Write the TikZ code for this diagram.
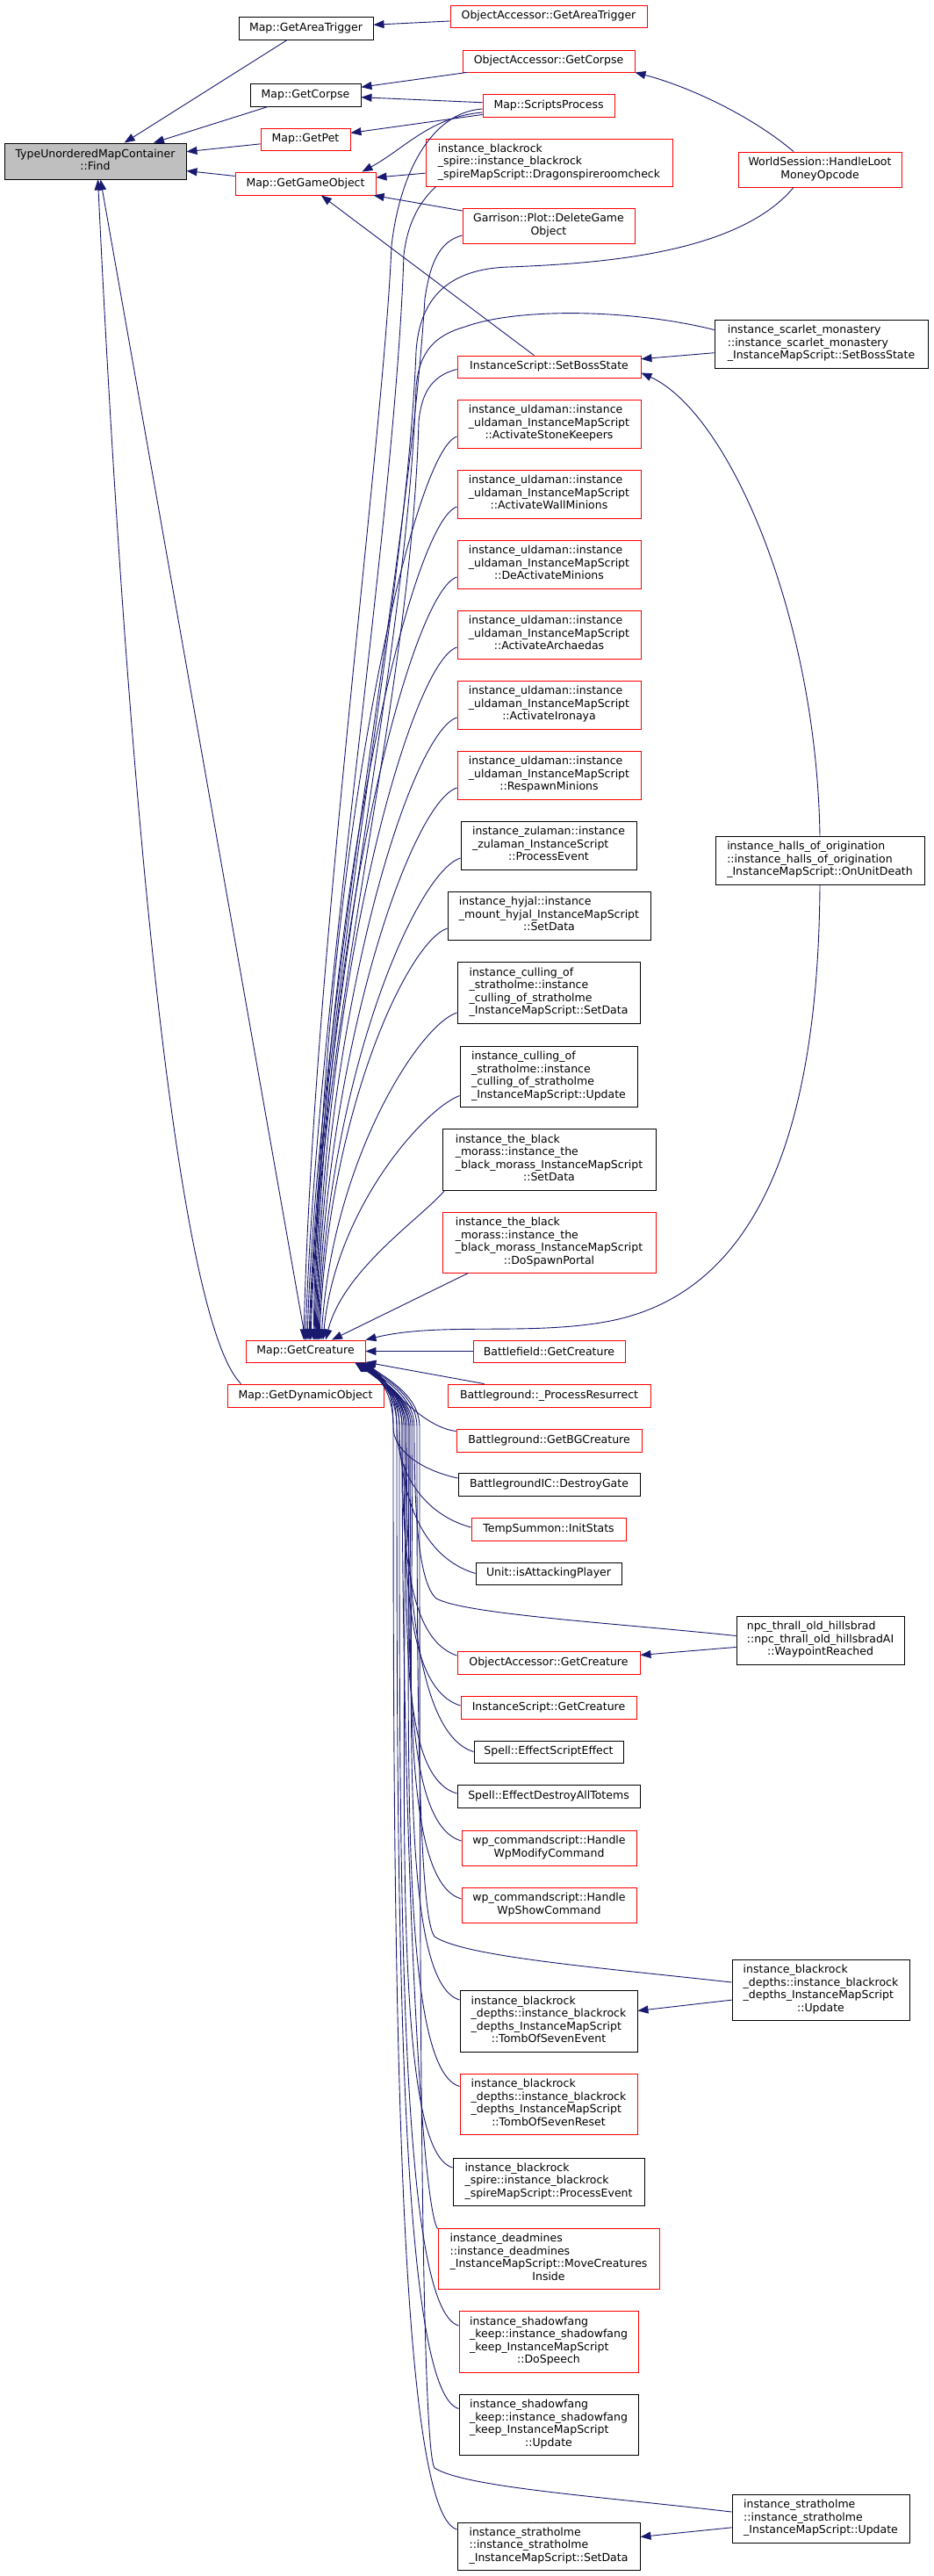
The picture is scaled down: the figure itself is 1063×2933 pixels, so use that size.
\documentclass[tikz,border=0pt]{standalone}
\usepackage{fontspec}
\setmainfont{DejaVu Sans}
\usetikzlibrary{arrows.meta}
\definecolor{edgeblue}{HTML}{191970}
\definecolor{rootgray}{HTML}{BFBFBF}
\newcommand{\nodefont}{\fontsize{12.5}{14.5}\selectfont}
\newcommand{\nlab}[2]{\begin{tabular}{@{}l@{}}#1\\\multicolumn{1}{@{}c@{}}{#2}\end{tabular}}

\begin{document}
\begin{tikzpicture}[
		x=1pt, y=-1pt,
		dnode/.style={rectangle, draw, fill=white, line width=0.9pt, inner sep=0pt, font=\nodefont},
		redbox/.style={dnode, draw=red},
		blackbox/.style={dnode, draw=black},
		rootbox/.style={dnode, draw=black, fill=rootgray},
		wh/.style 2 args={minimum width=#1pt, minimum height=#2pt}
	]
	\fill[white] (0,0) rectangle (1063,2933);
	\useasboundingbox (0,0) rectangle (1063,2933);
	\node[rootbox, wh={207}{41}] (find) at (108.5,183.5) {\nlab{TypeUnorderedMapContainer}{::Find}};
	\node[blackbox, wh={153}{26}] (mgat) at (348.5,32) {Map::GetAreaTrigger};
	\node[blackbox, wh={126}{26}] (mgcp) at (348,108) {Map::GetCorpse};
	\node[redbox, wh={102}{25}] (mgpt) at (348,158.5) {Map::GetPet};
	\node[redbox, wh={160}{26}] (mggo) at (348,209) {Map::GetGameObject};
	\node[redbox, wh={136}{25}] (gcr) at (348,1538.5) {Map::GetCreature};
	\node[redbox, wh={178}{26}] (gdo) at (348,1589) {Map::GetDynamicObject};
	\node[redbox, wh={224}{25}] (oagat) at (625,18.5) {ObjectAccessor::GetAreaTrigger};
	\node[redbox, wh={196}{25}] (oagcp) at (625,69.5) {ObjectAccessor::GetCorpse};
	\node[redbox, wh={150}{26}] (msp) at (625,120) {Map::ScriptsProcess};
	\node[redbox, wh={281}{54}] (drag) at (625.5,185) {\nlab{instance\_blackrock\\\_spire::instance\_blackrock}{\_spireMapScript::Dragonspireroomcheck}};
	\node[redbox, wh={196}{40}] (garr) at (625,257) {\nlab{Garrison::Plot::DeleteGame}{Object}};
	\node[redbox, wh={209}{25}] (isbs) at (625.5,417.5) {InstanceScript::SetBossState};
	\node[redbox, wh={209}{55}] (uld1) at (625.5,482.5) {\nlab{instance\_uldaman::instance\\\_uldaman\_InstanceMapScript}{::ActivateStoneKeepers}};
	\node[redbox, wh={209}{55}] (uld2) at (625.5,562.5) {\nlab{instance\_uldaman::instance\\\_uldaman\_InstanceMapScript}{::ActivateWallMinions}};
	\node[redbox, wh={209}{55}] (uld3) at (625.5,642.5) {\nlab{instance\_uldaman::instance\\\_uldaman\_InstanceMapScript}{::DeActivateMinions}};
	\node[redbox, wh={209}{55}] (uld4) at (625.5,722.5) {\nlab{instance\_uldaman::instance\\\_uldaman\_InstanceMapScript}{::ActivateArchaedas}};
	\node[redbox, wh={209}{55}] (uld5) at (625.5,802.5) {\nlab{instance\_uldaman::instance\\\_uldaman\_InstanceMapScript}{::ActivateIronaya}};
	\node[redbox, wh={209}{55}] (uld6) at (625.5,882.5) {\nlab{instance\_uldaman::instance\\\_uldaman\_InstanceMapScript}{::RespawnMinions}};
	\node[blackbox, wh={200}{55}] (zul) at (625,962.5) {\nlab{instance\_zulaman::instance\\\_zulaman\_InstanceScript}{::ProcessEvent}};
	\node[blackbox, wh={231}{55}] (hyj) at (625.5,1042.5) {\nlab{instance\_hyjal::instance\\\_mount\_hyjal\_InstanceMapScript}{::SetData}};
	\node[blackbox, wh={208}{70}] (cosd) at (625,1130) {\nlab{instance\_culling\_of\\\_stratholme::instance\\\_culling\_of\_stratholme}{\_InstanceMapScript::SetData}};
	\node[blackbox, wh={202}{69}] (coup) at (625,1225.5) {\nlab{instance\_culling\_of\\\_stratholme::instance\\\_culling\_of\_stratholme}{\_InstanceMapScript::Update}};
	\node[blackbox, wh={243}{70}] (bmsd) at (625.5,1320) {\nlab{instance\_the\_black\\\_morass::instance\_the\\\_black\_morass\_InstanceMapScript}{::SetData}};
	\node[redbox, wh={243}{69}] (bmdp) at (625.5,1414.5) {\nlab{instance\_the\_black\\\_morass::instance\_the\\\_black\_morass\_InstanceMapScript}{::DoSpawnPortal}};
	\node[redbox, wh={173}{25}] (bfgc) at (625.5,1538.5) {Battlefield::GetCreature};
	\node[redbox, wh={231}{26}] (bgpr) at (625.5,1589) {Battleground::\_ProcessResurrect};
	\node[redbox, wh={211}{26}] (bggc) at (625.5,1640) {Battleground::GetBGCreature};
	\node[blackbox, wh={207}{26}] (bicdg) at (625.5,1690) {BattlegroundIC::DestroyGate};
	\node[redbox, wh={176}{26}] (tsis) at (625,1741) {TempSummon::InitStats};
	\node[blackbox, wh={166}{25}] (uiap) at (625,1791.5) {Unit::isAttackingPlayer};
	\node[redbox, wh={208}{26}] (oagcr) at (625,1893) {ObjectAccessor::GetCreature};
	\node[redbox, wh={200}{26}] (isgc) at (625,1944) {InstanceScript::GetCreature};
	\node[blackbox, wh={170}{25}] (sese) at (625,1994.5) {Spell::EffectScriptEffect};
	\node[blackbox, wh={208}{26}] (sedt) at (625,2045) {Spell::EffectDestroyAllTotems};
	\node[redbox, wh={199}{40}] (wpmc) at (625.5,2104) {\nlab{wp\_commandscript::Handle}{WpModifyCommand}};
	\node[redbox, wh={199}{40}] (wpsc) at (625.5,2169) {\nlab{wp\_commandscript::Handle}{WpShowCommand}};
	\node[blackbox, wh={202}{70}] (tose) at (625,2301) {\nlab{instance\_blackrock\\\_depths::instance\_blackrock\\\_depths\_InstanceMapScript}{::TombOfSevenEvent}};
	\node[redbox, wh={202}{69}] (tosr) at (625,2395.5) {\nlab{instance\_blackrock\\\_depths::instance\_blackrock\\\_depths\_InstanceMapScript}{::TombOfSevenReset}};
	\node[blackbox, wh={218}{54}] (bspe) at (625,2484) {\nlab{instance\_blackrock\\\_spire::instance\_blackrock}{\_spireMapScript::ProcessEvent}};
	\node[redbox, wh={252}{69}] (dmmc) at (625,2571.5) {\nlab{instance\_deadmines\\::instance\_deadmines\\\_InstanceMapScript::MoveCreatures}{Inside}};
	\node[redbox, wh={204}{70}] (sfds) at (625,2666) {\nlab{instance\_shadowfang\\\_keep::instance\_shadowfang\\\_keep\_InstanceMapScript}{::DoSpeech}};
	\node[blackbox, wh={204}{69}] (sfup) at (625,2760.5) {\nlab{instance\_shadowfang\\\_keep::instance\_shadowfang\\\_keep\_InstanceMapScript}{::Update}};
	\node[blackbox, wh={208}{54}] (stsd) at (625,2899) {\nlab{instance\_stratholme\\::instance\_stratholme}{\_InstanceMapScript::SetData}};
	\node[redbox, wh={186}{40}] (wshl) at (934,193) {\nlab{WorldSession::HandleLoot}{MoneyOpcode}};
	\node[blackbox, wh={243}{55}] (smsb) at (935.5,391.5) {\nlab{instance\_scarlet\_monastery\\::instance\_scarlet\_monastery}{\_InstanceMapScript::SetBossState}};
	\node[blackbox, wh={238}{55}] (houd) at (934,979.5) {\nlab{instance\_halls\_of\_origination\\::instance\_halls\_of\_origination}{\_InstanceMapScript::OnUnitDeath}};
	\node[blackbox, wh={191}{55}] (ntwr) at (934.5,1867.5) {\nlab{npc\_thrall\_old\_hillsbrad\\::npc\_thrall\_old\_hillsbradAI}{::WaypointReached}};
	\node[blackbox, wh={202}{69}] (brdu) at (935,2265.5) {\nlab{instance\_blackrock\\\_depths::instance\_blackrock\\\_depths\_InstanceMapScript}{::Update}};
	\node[blackbox, wh={202}{55}] (stup) at (935,2867.5) {\nlab{instance\_stratholme\\::instance\_stratholme}{\_InstanceMapScript::Update}};
	\begin{scope}[color=edgeblue, line width=0.9pt, -{Triangle[length=12pt,width=9pt]}]
	\draw (mgat) -- (find);
	\draw (mgcp) -- (find);
	\draw (mgpt) -- (find);
	\draw (mggo) -- (find);
	\draw (gcr.north) -- ([xshift=6pt]find.south);
	\draw ([xshift=16pt]gdo.north west) .. controls (195,1496) and (140,804) .. ([xshift=3pt]find.south);
	\draw (oagat) -- (mgat);
	\draw (oagcp) -- (mgcp);
	\draw (msp) -- (mgcp);
	\draw (msp) -- (mgpt);
	\draw ([shift={(0,8)}]msp.west) .. controls (490,133) and (460,170) .. ([xshift=-16pt]mggo.north east);
	\draw (drag) -- (mggo);
	\draw (garr) -- (mggo);
	\draw (isbs) -- (mggo);
	\draw ([xshift=-30pt]wshl.north) .. controls (860,135) and (790,100) .. (oagcp.south east);
	\draw (smsb) -- (isbs);
	\draw (houd.north) .. controls (930,700) and (830,470) .. ([shift={(0,-6)}]isbs.south east);
	\draw (houd.south) .. controls (932,1350) and (830,1480) .. (690,1505) .. controls (600,1521) and (500,1505) .. (gcr.north east);
	\draw (ntwr) -- (oagcr);
	\draw (brdu) -- (tose);
	\draw (stup) -- (stsd);
	\draw ([shift={(0,4)}]msp.west) .. controls (490,128) and (455,200) .. (446,280) .. controls (437,500) and (356,1100) .. ([xshift=-2pt]gcr.north);
	\draw ([xshift=12pt]drag.south west) .. controls (480,228) and (465,250) .. (460,290) .. controls (450,600) and (360,1150) .. (gcr.north);
	\draw ([shift={(0,11)}]garr.west) .. controls (500,275) and (490,300) .. (484,340) .. controls (465,650) and (362,1150) .. ([xshift=2pt]gcr.north);
	\draw ([xshift=-30pt]wshl.south) .. controls (840,290) and (680,300) .. (580,304) .. controls (510,306) and (478,340) .. (474,400) .. controls (462,700) and (364,1150) .. ([xshift=4pt]gcr.north);
	\draw ([shift={(0,-16)}]smsb.west) .. controls (720,352) and (590,350) .. (530,372) .. controls (495,382) and (478,400) .. (474,440) .. controls (464,750) and (365,1150) .. ([xshift=5pt]gcr.north);
	\draw ([shift={(0,3)}]isbs.west) .. controls (490,428) and (480,450) .. (477,480) .. controls (468,800) and (366,1150) .. ([xshift=6pt]gcr.north);
	\draw ([shift={(0,14.5)}]uld1.west) .. controls +(-50,15) and +(10,-560) .. ([xshift=9pt]gcr.north);
	\draw ([shift={(0,14.5)}]uld2.west) .. controls +(-50,15) and +(10,-520) .. ([xshift=10pt]gcr.north);
	\draw ([shift={(0,14.5)}]uld3.west) .. controls +(-50,15) and +(10,-480) .. ([xshift=11pt]gcr.north);
	\draw ([shift={(0,14.5)}]uld4.west) .. controls +(-50,15) and +(10,-430) .. ([xshift=12pt]gcr.north);
	\draw ([shift={(0,14.5)}]uld5.west) .. controls +(-50,15) and +(10,-390) .. ([xshift=13pt]gcr.north);
	\draw ([shift={(0,14.5)}]uld6.west) .. controls +(-50,15) and +(10,-340) .. ([xshift=14pt]gcr.north);
	\draw ([shift={(0,14.5)}]zul.west) .. controls +(-50,15) and +(10,-300) .. ([xshift=15pt]gcr.north);
	\draw ([shift={(0,14.5)}]hyj.west) .. controls +(-45,15) and +(10,-260) .. ([xshift=16pt]gcr.north);
	\draw ([shift={(0,23)}]cosd.west) .. controls +(-45,15) and +(12,-200) .. ([xshift=18pt]gcr.north);
	\draw ([shift={(0,22)}]coup.west) .. controls +(-40,15) and +(14,-150) .. ([xshift=20pt]gcr.north);
	\draw ([xshift=3pt]bmsd.south west) .. controls +(-25,30) and +(20,-80) .. ([xshift=23pt]gcr.north);
	\draw ([xshift=30pt]bmdp.south west) -- ([xshift=30pt]gcr.north);
	\draw (bfgc) -- (gcr);
	\draw (bgpr) -- (gcr);
	\draw ([shift={(0,3)}]bggc.north west) .. controls +(-40,-5) and +(25,22) .. ([xshift=-1pt]gcr.south east);
	\draw ([shift={(0,-7)}]bicdg.west) .. controls +(-45,-10) and +(0,25) .. (448,1625) .. controls +(0,-35) and +(28,20) .. ([xshift=-2pt]gcr.south east);
	\draw ([shift={(0,-2)}]tsis.west) .. controls +(-55,-15) and +(0,50) .. (452,1625) .. controls +(0,-35) and +(28,20) .. ([xshift=-3pt]gcr.south east);
	\draw (uiap.west) .. controls +(-60,-18) and +(0,80) .. (455,1625) .. controls +(0,-35) and +(28,20) .. ([xshift=-4pt]gcr.south east);
	\draw ([shift={(0,-8)}]oagcr.west) .. controls +(-60,-20) and +(0,120) .. (458,1625) .. controls +(0,-35) and +(28,20) .. ([xshift=-5pt]gcr.south east);
	\draw ([shift={(0,-2)}]isgc.west) .. controls +(-65,-20) and +(0,150) .. (460,1625) .. controls +(0,-35) and +(28,20) .. ([xshift=-6pt]gcr.south east);
	\draw (sese.west) .. controls +(-65,-20) and +(0,180) .. (462,1625) .. controls +(0,-35) and +(28,20) .. ([xshift=-7pt]gcr.south east);
	\draw ([shift={(0,-3)}]sedt.west) .. controls +(-70,-20) and +(0,200) .. (464,1625) .. controls +(0,-35) and +(28,20) .. ([xshift=-8pt]gcr.south east);
	\draw ([shift={(0,-8)}]wpmc.west) .. controls +(-70,-20) and +(0,230) .. (466,1625) .. controls +(0,-35) and +(28,20) .. ([xshift=-9pt]gcr.south east);
	\draw ([shift={(0,-7)}]wpsc.west) .. controls +(-70,-20) and +(0,260) .. (468,1625) .. controls +(0,-35) and +(28,20) .. ([xshift=-10pt]gcr.south east);
	\draw ([shift={(0,-24)}]tose.west) .. controls +(-70,-20) and +(0,300) .. (470,1625) .. controls +(0,-35) and +(28,20) .. ([xshift=-11pt]gcr.south east);
	\draw ([shift={(0,-20)}]tosr.west) .. controls +(-70,-20) and +(0,350) .. (466,1625) .. controls +(0,-35) and +(28,20) .. ([xshift=-12pt]gcr.south east);
	\draw ([shift={(0,-16)}]bspe.west) .. controls +(-70,-20) and +(0,400) .. (462,1625) .. controls +(0,-35) and +(28,20) .. ([xshift=-12pt]gcr.south east);
	\draw ([shift={(0,1)}]dmmc.north west) .. controls +(-20,-30) and +(0,440) .. (458,1625) .. controls +(0,-35) and +(28,20) .. ([xshift=-11pt]gcr.south east);
	\draw ([shift={(0,-18)}]sfds.west) .. controls +(-70,-20) and +(0,480) .. (455,1625) .. controls +(0,-35) and +(28,20) .. ([xshift=-10pt]gcr.south east);
	\draw ([shift={(0,-18)}]sfup.west) .. controls +(-70,-20) and +(0,520) .. (452,1625) .. controls +(0,-35) and +(28,20) .. ([xshift=-9pt]gcr.south east);
	\draw ([shift={(0,-19)}]stsd.west) .. controls +(-70,-20) and +(0,580) .. (448,1625) .. controls +(0,-35) and +(28,20) .. ([xshift=-8pt]gcr.south east);
	\draw ([shift={(0,-5)}]ntwr.west) .. controls (700,1848) and (530,1838) .. (497,1820) .. controls (474,1800) and (472,1700) .. (472,1625) .. controls +(0,-35) and +(28,20) .. ([xshift=-6pt]gcr.south east);
	\draw ([shift={(0,-8.5)}]brdu.west) .. controls (680,2240) and (530,2228) .. (495,2205) .. controls (476,2180) and (475,1900) .. (475,1625) .. controls +(0,-35) and +(28,20) .. ([xshift=-3pt]gcr.south east);
	\draw ([shift={(0,-7.5)}]stup.west) .. controls (680,2842) and (530,2832) .. (495,2810) .. controls (478,2785) and (478,2100) .. (478,1625) .. controls +(0,-35) and +(28,20) .. ([xshift=-1pt]gcr.south east);
	\end{scope}
\end{tikzpicture}
\end{document}
